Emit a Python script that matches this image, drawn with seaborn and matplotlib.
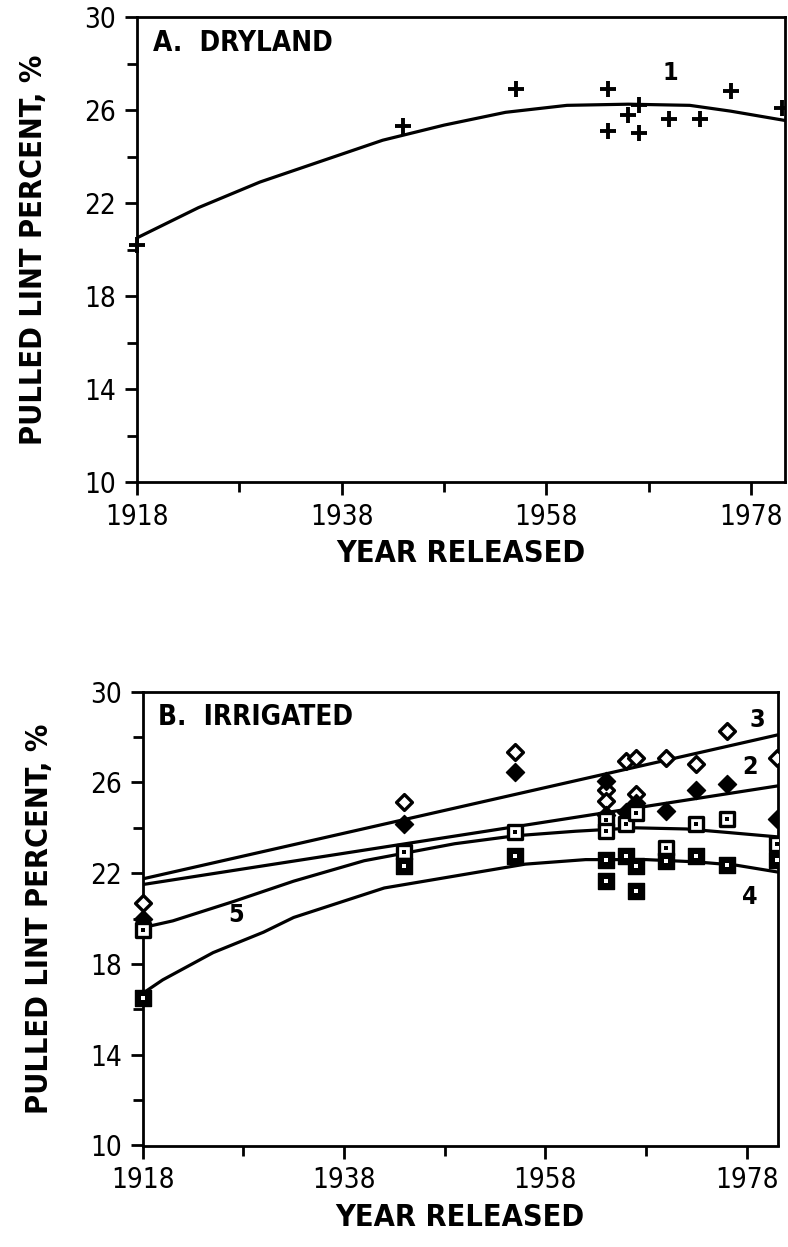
import numpy as np
import pandas as pd
import matplotlib
matplotlib.use("Agg")
import matplotlib.pyplot as plt
import seaborn as sns
from matplotlib import font_manager
from matplotlib.ticker import MultipleLocator, FixedLocator

# ---------------- data ----------------
# Panel A: dryland (single cultivar set, "+")
dry_year = [1918, 1944, 1955, 1964, 1964, 1966, 1967, 1967, 1970, 1973, 1976, 1981]
dry_lint = [20.2, 25.3, 26.9, 26.9, 25.1, 25.8, 25.0, 26.2, 25.6, 25.6, 26.8, 26.1]
# fitted curve 1
dry_fit_year = [1918, 1924, 1930, 1936, 1942, 1948, 1954, 1960, 1966, 1972, 1976, 1981.3]
dry_fit_lint = [20.5, 21.8, 22.9, 23.8, 24.7, 25.35, 25.9, 26.2, 26.25, 26.2, 25.95, 25.55]

# Panel B: irrigated, four environments
open_dia_year = [1918, 1944, 1955, 1964, 1964, 1966, 1967, 1967, 1970, 1973, 1976, 1981]
open_dia_lint = [20.7, 25.15, 27.35, 25.65, 25.2, 26.95, 27.1, 25.5, 27.1, 26.8, 28.25, 27.1]
fill_dia_year = [1918, 1944, 1955, 1964, 1964, 1966, 1967, 1970, 1973, 1976, 1981]
fill_dia_lint = [20.0, 24.15, 26.45, 26.05, 24.55, 24.7, 25.1, 24.75, 25.65, 25.95, 24.4]
open_sq_year = [1918, 1944, 1955, 1964, 1964, 1966, 1967, 1970, 1973, 1976, 1981]
open_sq_lint = [19.5, 22.95, 23.8, 24.35, 23.85, 24.15, 24.65, 23.1, 24.15, 24.4, 23.3]
fill_sq_year = [1918, 1944, 1955, 1964, 1964, 1966, 1967, 1967, 1970, 1973, 1976, 1981]
fill_sq_lint = [16.5, 22.3, 22.75, 22.6, 21.65, 22.75, 22.3, 21.2, 22.55, 22.75, 22.35, 22.6]

# fitted lines
line3_year = [1918, 1981.1]
line3_lint = [21.75, 28.1]
line2_year = [1918, 1981.1]
line2_lint = [21.5, 25.85]
line5_year = [1918, 1921, 1927, 1933, 1940, 1949, 1955, 1961, 1967, 1972, 1976, 1981.1]
line5_lint = [19.6, 19.9, 20.75, 21.65, 22.55, 23.3, 23.65, 23.85, 24.0, 23.95, 23.8, 23.6]
line4_year = [1918, 1920, 1925, 1930, 1933, 1942, 1950, 1956, 1962, 1968, 1973, 1977, 1981.1]
line4_lint = [16.7, 17.3, 18.5, 19.4, 20.05, 21.35, 21.95, 22.4, 22.6, 22.6, 22.5, 22.35, 22.05]

x_major = [1918, 1938, 1958, 1978]
x_minor = [1928, 1948, 1968]
y_major = [10, 14, 18, 22, 26, 30]

# ---------------- style ----------------
sns.set_theme(style="white")

# look for a condensed / narrow sans face
fam = "Liberation Sans"
stretch = "normal"
entries = font_manager.fontManager.ttflist
names = {f.name for f in entries}
if "Liberation Sans Narrow" in names:
    fam = "Liberation Sans Narrow"
else:
    def is_cond(f):
        st = f.stretch
        if isinstance(st, str):
            return "condensed" in st
        try:
            return int(st) < 500
        except Exception:
            return False
    for pref in ["DejaVu Sans", "Noto Sans", "Open Sans", "Roboto", "Inter"]:
        if any(f.name == pref and is_cond(f) for f in entries):
            fam = pref
            stretch = "condensed"
            break
    else:
        for f in entries:
            if ("Narrow" in f.name or "Condensed" in f.name) and "Mono" not in f.name \
                    and "Serif" not in f.name:
                fam = f.name
                break
plt.rcParams["font.family"] = [fam, "DejaVu Sans"]
plt.rcParams["font.stretch"] = stretch

fig = plt.figure(figsize=(7.88, 12.47), dpi=100)
W, H = 788.0, 1247.0
axA = fig.add_axes([137 / W, 1 - 482 / H, (785 - 137) / W, (482 - 17) / H])
axB = fig.add_axes([142.6 / W, 1 - 1145.5 / H, (778 - 142.6) / W, (1145.5 - 691.7) / H])

LW = 2.3


def style_axes(ax, xmax):
    ax.set_xlim(1918, xmax)
    ax.set_ylim(10, 30)
    ax.xaxis.set_major_locator(FixedLocator(x_major))
    ax.xaxis.set_minor_locator(FixedLocator(x_minor))
    ax.yaxis.set_major_locator(FixedLocator(y_major))
    ax.yaxis.set_minor_locator(MultipleLocator(2))
    for s in ax.spines.values():
        s.set_visible(True)
        s.set_color("black")
        s.set_linewidth(2.0)
    ax.tick_params(axis="both", which="major", direction="out", length=9, width=2,
                   color="black", labelsize=20, pad=6, bottom=True, left=True,
                   labelcolor="black")
    ax.tick_params(axis="both", which="minor", direction="out", length=7, width=2,
                   color="black", bottom=True, left=True)
    ax.set_xlabel("YEAR RELEASED", fontsize=22, fontweight="bold", labelpad=6,
                  color="black")
    ax.set_ylabel("PULLED LINT PERCENT, %", fontsize=22, fontweight="bold",
                  labelpad=26, color="black")


def scatter(ax, years, vals, **kw):
    df = pd.DataFrame({"year": years, "lint": vals})
    edge = df[df["year"] == 1918]
    inner = df[df["year"] != 1918]
    sns.scatterplot(data=inner, x="year", y="lint", ax=ax, legend=False, zorder=4, **kw)
    sns.scatterplot(data=edge, x="year", y="lint", ax=ax, legend=False, zorder=4,
                    clip_on=False, **kw)


def curve(ax, years, vals):
    df = pd.DataFrame({"year": years, "lint": vals})
    sns.lineplot(data=df, x="year", y="lint", ax=ax, color="black", linewidth=LW,
                 legend=False, zorder=3)


# ---------------- panel A ----------------
curve(axA, dry_fit_year, dry_fit_lint)
scatter(axA, dry_year, dry_lint, marker="+", s=130, color="black", linewidth=2.8)
style_axes(axA, 1981.3)
axA.text(0.025, 0.975, "A.  DRYLAND", transform=axA.transAxes, ha="left", va="top",
         fontsize=20, fontweight="bold", color="black")
axA.text(1970.1, 27.6, "1", ha="center", va="center", fontsize=18, fontweight="bold",
         color="black")

# ---------------- panel B ----------------
curve(axB, line3_year, line3_lint)
curve(axB, line2_year, line2_lint)
curve(axB, line5_year, line5_lint)
curve(axB, line4_year, line4_lint)
scatter(axB, open_dia_year, open_dia_lint, marker="D", s=65, color="white",
        edgecolor="black", linewidth=2.4)
scatter(axB, fill_dia_year, fill_dia_lint, marker="D", s=85, color="black",
        edgecolor="black", linewidth=1.0)
scatter(axB, open_sq_year, open_sq_lint, marker="s", s=115, color="white",
        edgecolor="black", linewidth=2.4)
scatter(axB, open_sq_year, open_sq_lint, marker="s", s=7, color="black",
        linewidth=0)
scatter(axB, fill_sq_year, fill_sq_lint, marker="s", s=125, color="black",
        edgecolor="black", linewidth=1.0)
scatter(axB, fill_sq_year, fill_sq_lint, marker="s", s=7, color="white",
        linewidth=0)
style_axes(axB, 1981.1)
axB.text(0.025, 0.975, "B.  IRRIGATED", transform=axB.transAxes, ha="left", va="top",
         fontsize=20, fontweight="bold", color="black")
for lab, yr, val in [("3", 1979.0, 28.75), ("2", 1978.3, 26.7), ("4", 1978.3, 20.95),
                     ("5", 1927.3, 20.15)]:
    axB.text(yr, val, lab, ha="center", va="center", fontsize=18, fontweight="bold",
             color="black")

fig.savefig("out.png", dpi=100)
